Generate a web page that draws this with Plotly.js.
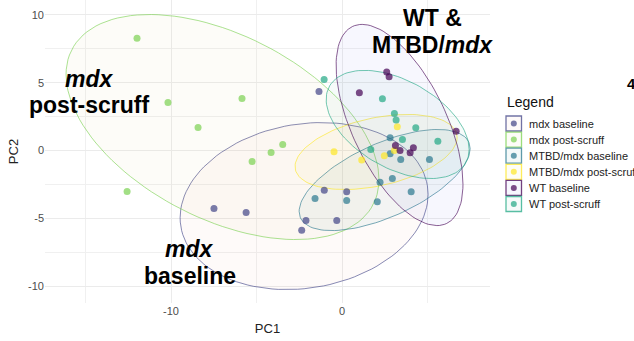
<!DOCTYPE html>
<html><head><meta charset="utf-8">
<script src="https://cdn.plot.ly/plotly-3.0.1.min.js"></script>
<style>html,body{margin:0;padding:0;background:#fff}#chart{width:634px;height:341px}</style>
</head><body><div id="chart"></div>
<script>
// ---- data ----
const groups = ["mdx baseline", "mdx post-scruff", "MTBD/mdx baseline", "MTBD/mdx post-scruff", "WT baseline", "WT post-scruff"];
const colors = ["#414487", "#7AD151", "#2A788E", "#FDE725", "#440154", "#22A884"];
const fillColors = ["rgba(230,120,90,0.04)", "rgba(210,200,120,0.05)", "rgba(60,150,150,0.055)", "rgba(240,225,80,0.055)", "rgba(110,110,230,0.055)", "rgba(40,170,140,0.045)"];

const mdxBaselineX = [-1.35, -7.49, -5.61, -1.04, 0.27, -2.11, -0.31, -2.36];
const mdxBaselineY = [4.35, -4.28, -4.58, -2.93, -3.05, -5.17, -5.17, -5.88];
const mdxPostX = [-11.99, -10.18, -5.85, -8.42, -3.47, -4.15, -5.26, -12.57];
const mdxPostY = [8.27, 3.54, 3.84, 1.70, 0.44, -0.15, -0.81, -3.03];
const mtbdBaselineX = [2.81, 2.81, 3.43, 5.11, 2.22, 2.94, 4.04, -1.58, 0.27, 2.06];
const mtbdBaselineY = [0.94, -0.24, -0.66, -0.66, -2.34, -2.07, -3.05, -3.54, -3.69, -3.79];
const mtbdPostX = [3.23, -0.47, 1.15, 2.47, 3.06];
const mtbdPostY = [1.75, -0.10, -0.70, -0.39, -0.01];
const wtBaselineX = [1.01, 2.61, 2.75, 6.67, 3.12, 3.39, 4.17, 3.98];
const wtBaselineY = [4.26, 5.78, 5.44, 1.42, 0.37, 0.00, 0.20, -0.17];
const wtPostX = [-1.05, 2.36, 3.06, 3.16, 4.31, 5.60, 3.53, 1.68];
const wtPostY = [5.24, 3.82, 2.73, 2.24, 1.68, 0.69, 0.81, 0.07];

const pointsX = [mdxBaselineX, mdxPostX, mtbdBaselineX, mtbdPostX, wtBaselineX, wtPostX];
const pointsY = [mdxBaselineY, mdxPostY, mtbdBaselineY, mtbdPostY, wtBaselineY, wtPostY];

// confidence ellipses: centre, half-extent in x and y, and x-y correlation
const ellipseCenterX = [-2.22, -6.99, 2.49, 1.99, 3.36, 3.25];
const ellipseCenterY = [-4.10, 1.73, -2.18, -0.11, 1.88, 1.92];
const ellipseHalfX = [7.25, 9.15, 5.00, 4.74, 3.71, 4.18];
const ellipseHalfY = [6.16, 8.30, 3.73, 2.77, 7.42, 3.99];
const ellipseCorr = [0.14, -0.467, 0.62, 0.387, -0.59, -0.463];

const xTickVals = [-10, 0];
const xTickText = ["-10", "0"];
const xMinorVals = [-15, -5, 5];
const yTickVals = [-10, -5, 0, 5, 10];
const yTickText = ["-10", "-5", "0", "5", "10"];
const yMinorVals = [-7.5, -2.5, 2.5, 7.5];

// ---- helpers ----
function rgba(hex, a) {
  const n = parseInt(hex.slice(1), 16);
  return `rgba(${(n >> 16) & 255},${(n >> 8) & 255},${n & 255},${a})`;
}
function ellipse(i) {
  const xs = [], ys = [];
  const d = Math.acos(ellipseCorr[i]);
  for (let k = 0; k <= 120; k++) {
    const t = 2 * Math.PI * k / 120;
    xs.push(ellipseCenterX[i] + ellipseHalfX[i] * Math.cos(t));
    ys.push(ellipseCenterY[i] + ellipseHalfY[i] * Math.cos(t - d));
  }
  return {xs, ys};
}

const FONT = "Liberation Sans, Arial, sans-serif";
const traces = [];
groups.forEach((g, i) => {
  const e = ellipse(i);
  traces.push({
    type: "scatter", mode: "lines", x: e.xs, y: e.ys, name: g,
    fill: "toself", fillcolor: fillColors[i],
    line: {color: rgba(colors[i], 0.7), width: 0.9}, hoverinfo: "skip", showlegend: false
  });
});
groups.forEach((g, i) => {
  traces.push({
    type: "scatter", mode: "markers", x: pointsX[i], y: pointsY[i], name: g,
    marker: {color: colors[i], opacity: 0.7, size: 7}, showlegend: false
  });
});

// plot area in pixels: left 45, right 490, top 0, bottom 303
const L = 45, R = 490, T = 0, B = 303;
const px = v => (v - L) / (R - L);
const py = v => (B - v) / (B - T);

const shapes = [], annotations = [];
// manual legend
annotations.push({xref: "paper", yref: "paper", x: px(505), y: py(102), xanchor: "left", yanchor: "middle",
  text: "Legend", showarrow: false, font: {family: FONT, size: 14, color: "#111"}});
groups.forEach((g, i) => {
  const cy = 123.5 + i * 16.1;
  shapes.push({type: "rect", xref: "paper", yref: "paper", x0: px(506), x1: px(521.5), y0: py(cy - 7.5), y1: py(cy + 7.5),
    line: {color: rgba(colors[i], 0.75), width: 1.3}, fillcolor: fillColors[i]});
  shapes.push({type: "circle", xref: "paper", yref: "paper", x0: px(510.8), x1: px(516.8), y0: py(cy - 3), y1: py(cy + 3),
    line: {width: 0}, fillcolor: rgba(colors[i], 0.7)});
  annotations.push({xref: "paper", yref: "paper", x: px(527), y: py(cy), xanchor: "left", yanchor: "middle",
    text: g, showarrow: false, font: {family: FONT, size: 11, color: "#222"}});
});
// group labels
const big = {family: FONT, size: 23, color: "#000"};
const labels = [
  {x: -14.74, y: 5.31, t: "<b><i>mdx</i></b>"},
  {x: -14.80, y: 3.39, t: "<b>post-scruff</b>"},
  {x: -8.92, y: -7.23, t: "<b><i>mdx</i></b>"},
  {x: -8.89, y: -9.23, t: "<b>baseline</b>"},
  {x: 5.26, y: 9.74, t: "<b>WT &amp;</b>"},
  {x: 5.29, y: 7.75, t: "<b>MTBD/<i>mdx</i></b>"}
];
labels.forEach(l => annotations.push({x: l.x, y: l.y, xref: "x", yref: "y", text: l.t, showarrow: false,
  xanchor: "center", yanchor: "middle", font: big}));
annotations.push({xref: "paper", yref: "paper", x: px(625), y: py(83), xanchor: "left", yanchor: "middle",
  text: "<b>4</b>", showarrow: false, font: {family: FONT, size: 15, color: "#000"}});

const layout = {
  width: 634, height: 341,
  margin: {l: L, r: 634 - R, t: T, b: 341 - B, pad: 0},
  paper_bgcolor: "#fff", plot_bgcolor: "#fff",
  showlegend: false,
  font: {family: FONT, color: "#4d4d4d"},
  xaxis: {
    range: [-17.37, 8.65], tickmode: "array", tickvals: xTickVals, ticktext: xTickText,
    showgrid: true, gridcolor: "#ebebeb", gridwidth: 1, zeroline: false, showline: false, ticks: "",
    tickfont: {family: FONT, size: 11, color: "#4d4d4d"},
    minor: {tickmode: "array", tickvals: xMinorVals, showgrid: true, gridcolor: "#f0f0f0", gridwidth: 1, ticks: ""},
    title: {text: "PC1", font: {family: FONT, size: 13, color: "#222"}, standoff: 7},
    automargin: false
  },
  yaxis: {
    range: [-11.25, 11.1], tickmode: "array", tickvals: yTickVals, ticktext: yTickText,
    showgrid: true, gridcolor: "#ebebeb", gridwidth: 1, zeroline: false, showline: false, ticks: "",
    tickfont: {family: FONT, size: 11, color: "#4d4d4d"},
    minor: {tickmode: "array", tickvals: yMinorVals, showgrid: true, gridcolor: "#f0f0f0", gridwidth: 1, ticks: ""},
    title: {text: "PC2", font: {family: FONT, size: 13, color: "#222"}, standoff: 6},
    automargin: false
  },
  shapes: shapes,
  annotations: annotations
};
Plotly.newPlot("chart", traces, layout, {displayModeBar: false, staticPlot: true});
</script>
</body></html>
